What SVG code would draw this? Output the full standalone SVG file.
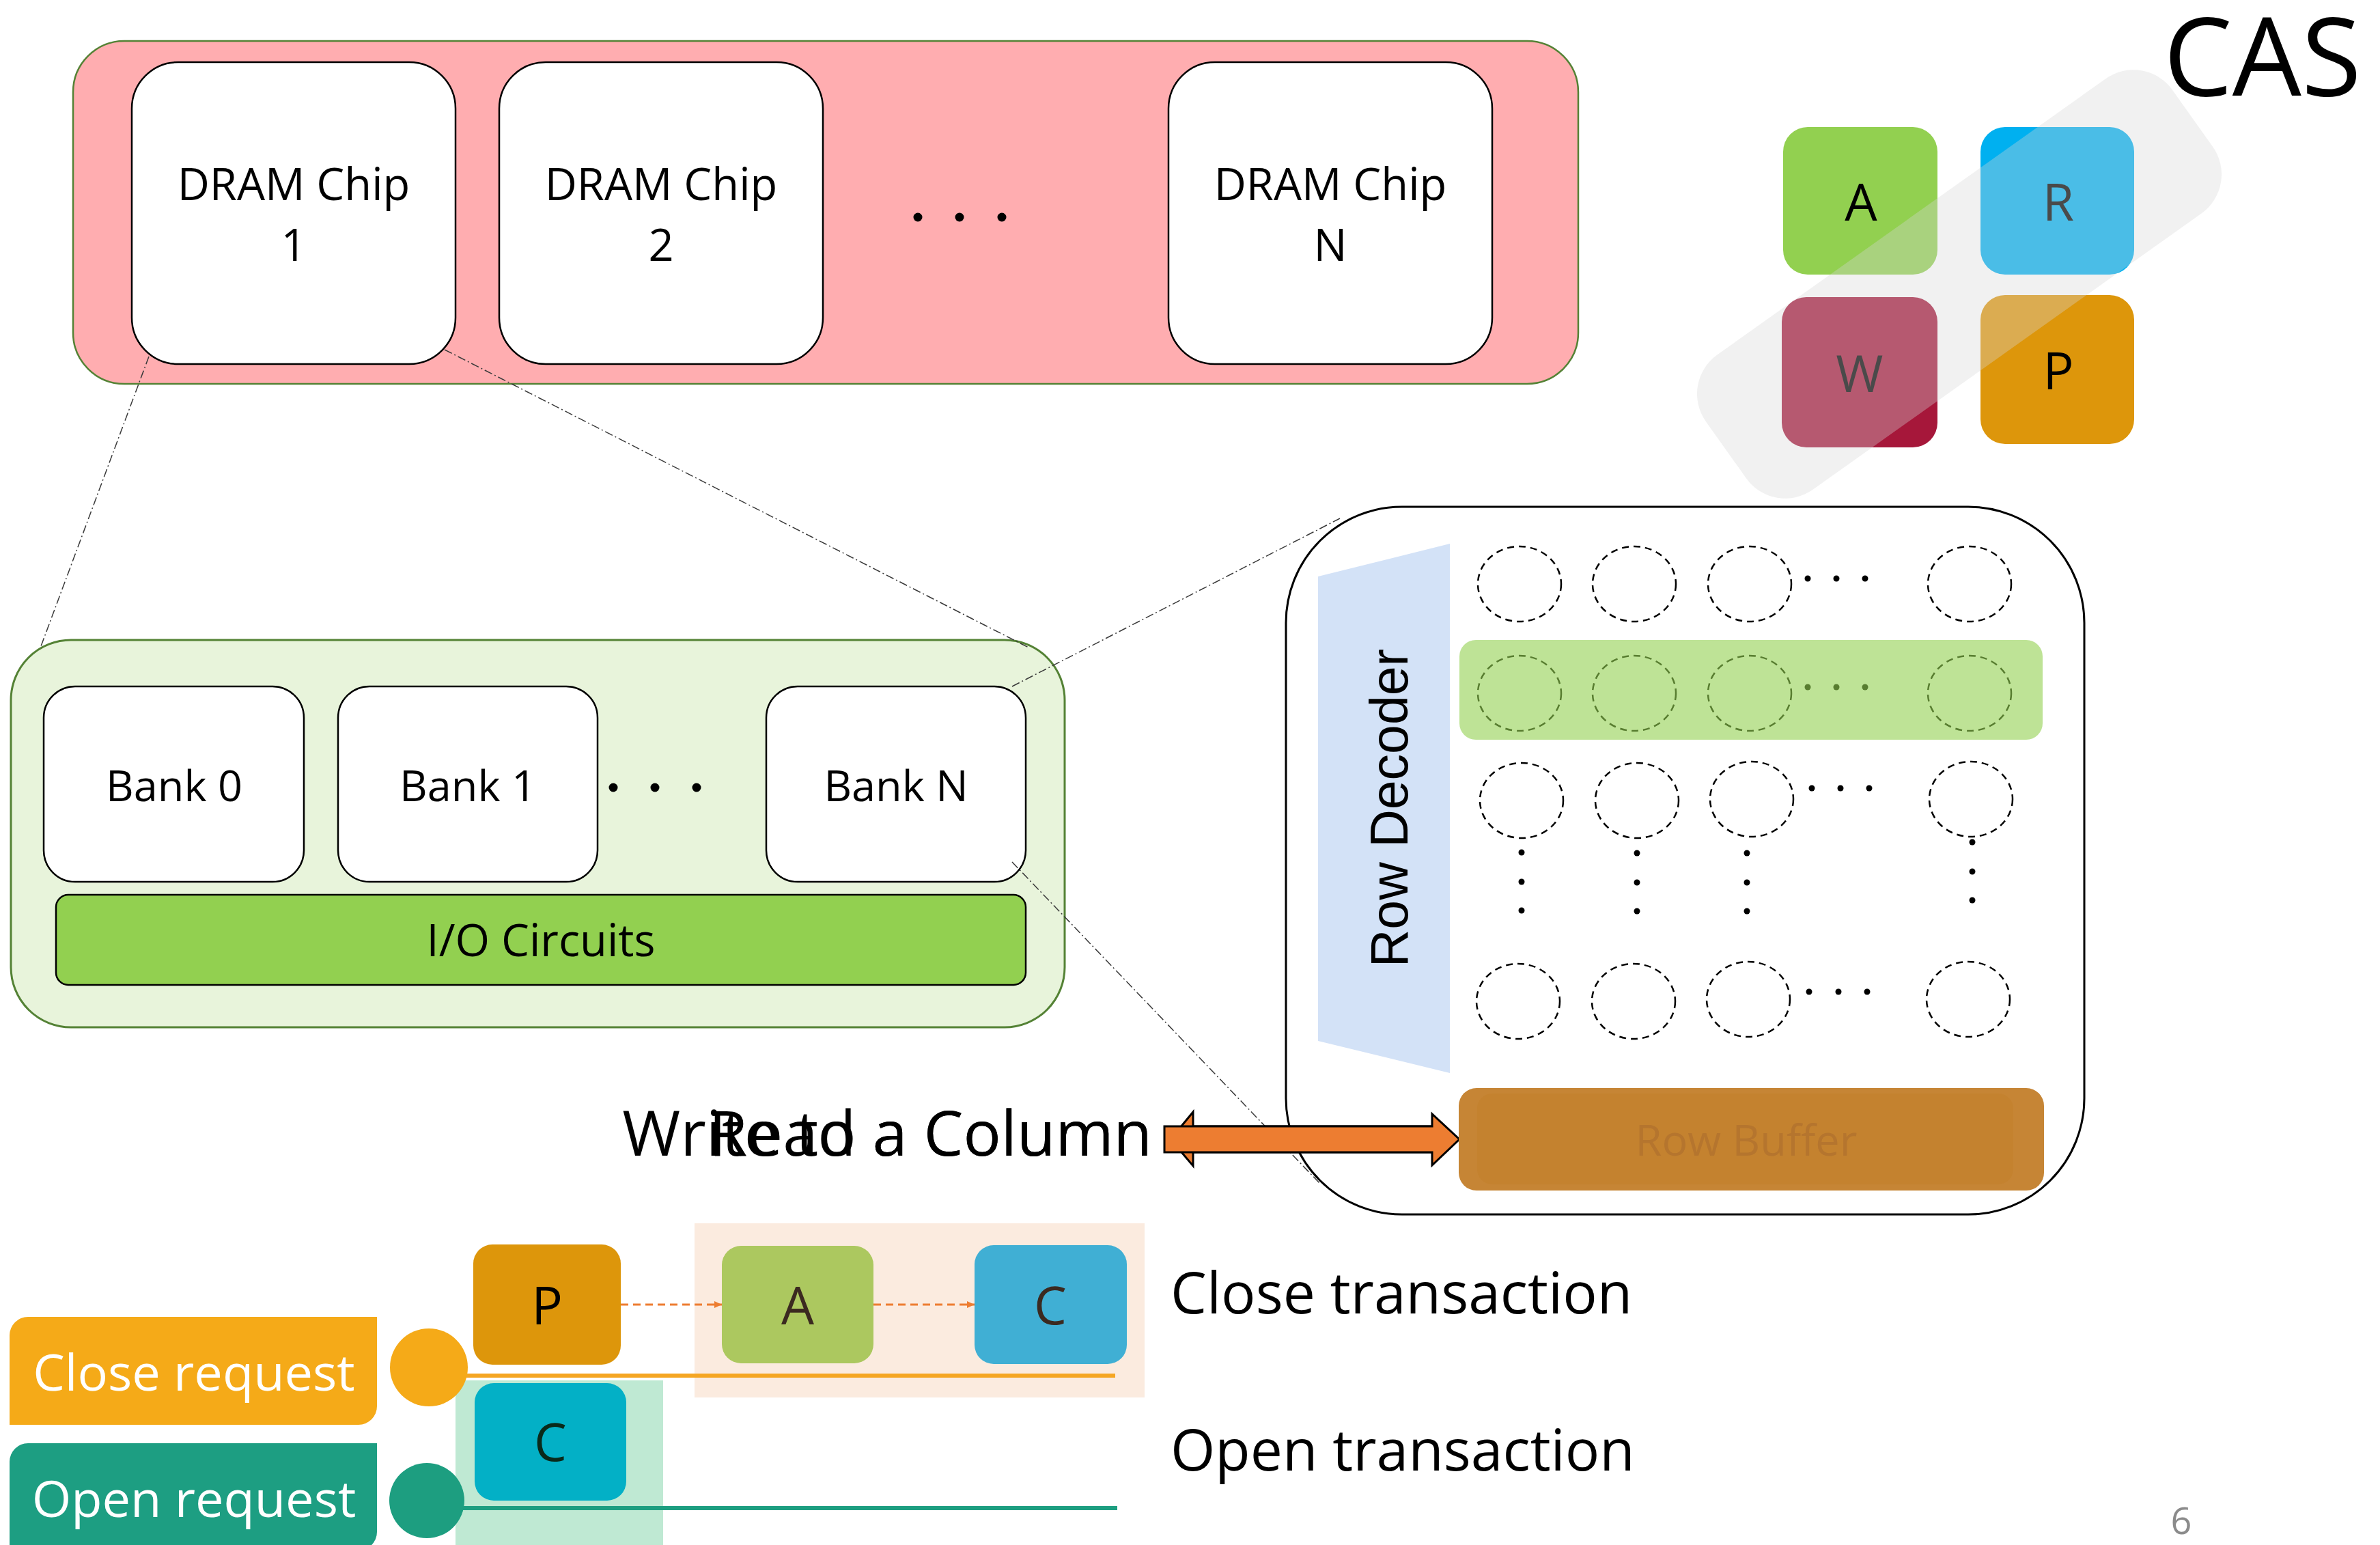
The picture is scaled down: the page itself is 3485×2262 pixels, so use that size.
<svg xmlns="http://www.w3.org/2000/svg" width="3485" height="2262" viewBox="0 0 3485 2262">
<defs>
<style>
text{font-family:"Open Sans","Noto Sans","Liberation Sans",sans-serif;}
.chip{fill:#FFFFFF;stroke:#000;stroke-width:2.5;}
.t65{font-size:65px;fill:#000;text-anchor:middle;}
.t63{font-size:63px;fill:#000;text-anchor:middle;}
.cell{fill:none;stroke:#000;stroke-width:2.5;stroke-dasharray:10 7;}
.zoomline{fill:none;stroke:#3a3a3a;stroke-width:1.5;stroke-dasharray:12 4 2 4;}
.leg{font-size:75px;text-anchor:middle;}
.tb{font-size:76px;text-anchor:middle;}
.req{font-size:74px;fill:#FFFFFF;text-anchor:middle;}
.big{font-size:84px;fill:#000;}
.flow{fill:none;stroke:#ED7D31;stroke-width:3;stroke-dasharray:11 7;}
</style>
<marker id="ah" markerWidth="12" markerHeight="10" refX="11" refY="5" orient="auto" markerUnits="userSpaceOnUse">
<path d="M0,0 L11,5 L0,10 Z" fill="#ED7D31"/>
</marker>
</defs>
<rect x="0" y="0" width="3485" height="2262" fill="#FFFFFF"/>

<!-- Channel with DRAM chips -->
<g id="channel">
<rect x="107" y="60" width="2204" height="502" rx="75" ry="75" fill="#FFADB0" stroke="#548235" stroke-width="2.5"/>
</g>
<g id="chip1">
<rect class="chip" x="193" y="91" width="474" height="442" rx="68" ry="68"/>
<text class="t65" x="430" y="293">DRAM Chip</text>
<text class="t65" x="430" y="382">1</text>
</g>
<g id="chip2">
<rect class="chip" x="731" y="91" width="474" height="442" rx="68" ry="68"/>
<text class="t65" x="968" y="293">DRAM Chip</text>
<text class="t65" x="968" y="382">2</text>
</g>
<g id="chipDots">
<circle cx="1344" cy="318" r="6.5" fill="#000"/>
<circle cx="1405" cy="318" r="6.5" fill="#000"/>
<circle cx="1467" cy="318" r="6.5" fill="#000"/>
</g>
<g id="chipN">
<rect class="chip" x="1711" y="91" width="474" height="442" rx="68" ry="68"/>
<text class="t65" x="1948" y="293">DRAM Chip</text>
<text class="t65" x="1948" y="382">N</text>
</g>

<!-- CAS legend -->
<g id="casTitle">
<text x="3168" y="140" font-size="160" fill="#000">CAS</text>
</g>
<g id="legA">
<rect x="2611" y="186" width="226" height="216" rx="36" ry="36" fill="#92D050"/>
<text class="leg" x="2725" y="323" fill="#000">A</text>
</g>
<g id="legR">
<rect x="2900" y="186" width="225" height="216" rx="36" ry="36" fill="#00B0F0"/>
<text class="leg" x="3014" y="323" fill="#000">R</text>
</g>
<g id="legW">
<rect x="2609" y="435" width="228" height="220" rx="36" ry="36" fill="#A6173A"/>
<text class="leg" x="2723" y="574" fill="#000">W</text>
</g>
<g id="legP">
<rect x="2900" y="432" width="225" height="218" rx="36" ry="36" fill="#DD960B"/>
<text class="leg" x="3014" y="570" fill="#000">P</text>
</g>
<g id="legOverlay">
<rect x="-419" y="-121" width="838" height="242" rx="70" ry="70" fill="#D6D6D6" opacity="0.345" transform="translate(2869,416) rotate(-35.4)"/>
</g>

<!-- Bank view -->
<g id="bankContainer">
<rect x="16" y="937" width="1543" height="567" rx="88" ry="88" fill="#E8F4DB" stroke="#548235" stroke-width="3"/>
</g>
<g id="bank0">
<rect class="chip" x="64" y="1005" width="381" height="286" rx="46" ry="46"/>
<text class="t63" x="255" y="1173">Bank 0</text>
</g>
<g id="bank1">
<rect class="chip" x="495" y="1005" width="380" height="286" rx="46" ry="46"/>
<text class="t63" x="685" y="1173">Bank 1</text>
</g>
<g id="bankDots">
<circle cx="898" cy="1153" r="6.5" fill="#000"/>
<circle cx="959" cy="1153" r="6.5" fill="#000"/>
<circle cx="1020" cy="1153" r="6.5" fill="#000"/>
</g>
<g id="bankN">
<rect class="chip" x="1122" y="1005" width="380" height="286" rx="46" ry="46"/>
<text class="t63" x="1312" y="1173">Bank N</text>
</g>
<g id="io">
<rect x="82" y="1310" width="1420" height="132" rx="18" ry="18" fill="#92D050" stroke="#000" stroke-width="2.5"/>
<text class="t65" x="792" y="1400">I/O Circuits</text>
</g>

<!-- Subarray view -->
<g id="subarray">
<rect x="1883" y="742" width="1169" height="1036" rx="170" ry="170" fill="#FFFFFF" stroke="#000" stroke-width="3"/>
</g>
<g id="rowDecoder">
<polygon points="1930,844 2123,796 2123,1571 1930,1524" fill="#D3E2F7"/>
<text x="2061" y="1183" font-size="77" fill="#000" text-anchor="middle" transform="rotate(-90 2061 1183)" style="font-family:'Liberation Sans','DejaVu Sans',sans-serif">Row Decoder</text>
</g>
<g id="cells">
<ellipse class="cell" cx="2225" cy="855" rx="61" ry="55"/>
<ellipse class="cell" cx="2393" cy="855" rx="61" ry="55"/>
<ellipse class="cell" cx="2562" cy="855" rx="61" ry="55"/>
<ellipse class="cell" cx="2884" cy="855" rx="61" ry="55"/>
<ellipse class="cell" cx="2225" cy="1015" rx="61" ry="55"/>
<ellipse class="cell" cx="2393" cy="1015" rx="61" ry="55"/>
<ellipse class="cell" cx="2562" cy="1015" rx="61" ry="55"/>
<ellipse class="cell" cx="2884" cy="1015" rx="61" ry="55"/>
<ellipse class="cell" cx="2228" cy="1172" rx="61" ry="55"/>
<ellipse class="cell" cx="2397" cy="1172" rx="61" ry="55"/>
<ellipse class="cell" cx="2565" cy="1170" rx="61" ry="55"/>
<ellipse class="cell" cx="2886" cy="1170" rx="61" ry="55"/>
<ellipse class="cell" cx="2223" cy="1466" rx="61" ry="55"/>
<ellipse class="cell" cx="2392" cy="1466" rx="61" ry="55"/>
<ellipse class="cell" cx="2560" cy="1463" rx="61" ry="55"/>
<ellipse class="cell" cx="2882" cy="1463" rx="61" ry="55"/>
</g>
<g id="cellDots" fill="#000">
<circle cx="2647" cy="847" r="4.5"/><circle cx="2689" cy="847" r="4.5"/><circle cx="2731" cy="847" r="4.5"/>
<circle cx="2647" cy="1006" r="4.5"/><circle cx="2689" cy="1006" r="4.5"/><circle cx="2731" cy="1006" r="4.5"/>
<circle cx="2653" cy="1154" r="4.5"/><circle cx="2695" cy="1154" r="4.5"/><circle cx="2737" cy="1154" r="4.5"/>
<circle cx="2649" cy="1452" r="4.5"/><circle cx="2692" cy="1452" r="4.5"/><circle cx="2734" cy="1452" r="4.5"/>
<circle cx="2228" cy="1248" r="4.5"/><circle cx="2228" cy="1291" r="4.5"/><circle cx="2228" cy="1333" r="4.5"/>
<circle cx="2397" cy="1249" r="4.5"/><circle cx="2397" cy="1292" r="4.5"/><circle cx="2397" cy="1334" r="4.5"/>
<circle cx="2558" cy="1249" r="4.5"/><circle cx="2558" cy="1292" r="4.5"/><circle cx="2558" cy="1334" r="4.5"/>
<circle cx="2888" cy="1233" r="4.5"/><circle cx="2888" cy="1276" r="4.5"/><circle cx="2888" cy="1318" r="4.5"/>
</g>
<g id="activeRow">
<rect x="2137" y="937" width="854" height="146" rx="24" ry="24" fill="#92D050" opacity="0.6"/>
</g>

<!-- Connectors -->
<g id="connectors">
<line class="zoomline" x1="218" y1="522" x2="60" y2="946"/>
<line class="zoomline" x1="651" y1="512" x2="1508" y2="949"/>
<line class="zoomline" x1="1482" y1="1005" x2="1962" y2="759"/>
<line class="zoomline" x1="1482" y1="1262" x2="1932" y2="1732"/>
<polygon points="1714,1668 1747,1628 1747,1649 2097,1649 2097,1687 1747,1687 1747,1707" fill="#ED7D31" stroke="#000" stroke-width="3" stroke-linejoin="miter"/>
<polygon points="1705,1649 2097,1649 2097,1631 2137,1668 2097,1706 2097,1687 1705,1687" fill="#ED7D31" stroke="#000" stroke-width="3" stroke-linejoin="miter"/>
</g>

<g id="rowBuffer">
<rect x="2136" y="1593" width="857" height="150" rx="26" ry="26" fill="#C68535"/>
<rect x="2163" y="1601" width="785" height="133" rx="22" ry="22" fill="#C4822F"/>
<text x="2557" y="1692" font-size="63" fill="#B5752E" text-anchor="middle">Row Buffer</text>
</g>

<g id="columnOps">
<text x="1687" y="1692" font-size="92" fill="#000" text-anchor="end">Write to a Column</text>
<text x="1687" y="1692" font-size="92" fill="#000" text-anchor="end">Read a Column</text>
</g>

<!-- Transactions -->
<g id="closeGroupBg">
<rect x="1017" y="1791" width="659" height="255" fill="#FBEBDF"/>
</g>
<g id="openGroupBg">
<rect x="667" y="2021" width="304" height="241" fill="#BFE9D3"/>
</g>
<g id="timelines">
<line x1="680" y1="2014" x2="1633" y2="2014" stroke="#F5A623" stroke-width="6"/>
<line x1="675" y1="2208" x2="1636" y2="2208" stroke="#1D9E80" stroke-width="6"/>
</g>
<g id="closeRequest">
<path d="M41 1928 H552 V2059 A27 27 0 0 1 525 2086 H14 V1955 A27 27 0 0 1 41 1928 Z" fill="#F5AA18"/>
<text class="req" x="284" y="2036">Close request</text>
</g>
<g id="closeDot">
<circle cx="628" cy="2002" r="57" fill="#F5AA18"/>
</g>
<g id="openRequest">
<path d="M41 2113 H552 V2243 A27 27 0 0 1 525 2270 H14 V2140 A27 27 0 0 1 41 2113 Z" fill="#1D9E82"/>
<text class="req" x="284" y="2221">Open request</text>
</g>
<g id="openDot">
<circle cx="625" cy="2197" r="55" fill="#1D9E80"/>
</g>
<g id="txP">
<rect x="693" y="1822" width="216" height="176" rx="28" ry="28" fill="#DD960B"/>
<text class="tb" x="801" y="1939" fill="#000">P</text>
</g>
<g id="txA">
<rect x="1057" y="1824" width="222" height="172" rx="28" ry="28" fill="#ACC85F"/>
<text class="tb" x="1168" y="1939" fill="#3B2A20">A</text>
</g>
<g id="txC">
<rect x="1427" y="1823" width="223" height="174" rx="28" ry="28" fill="#40AFD4"/>
<text class="tb" x="1538" y="1939" fill="#3B2A20">C</text>
</g>
<g id="txC2">
<rect x="695" y="2025" width="222" height="172" rx="28" ry="28" fill="#03B0C6"/>
<text class="tb" x="806" y="2139" fill="#0A2A1A">C</text>
</g>
<g id="flowArrows">
<line class="flow" x1="909" y1="1910" x2="1057" y2="1910" marker-end="url(#ah)"/>
<line class="flow" x1="1279" y1="1910" x2="1427" y2="1910" marker-end="url(#ah)"/>
</g>
<g id="labels">
<text class="big" x="1714" y="1923">Close transaction</text>
<text class="big" x="1714" y="2153">Open transaction</text>
<text x="3194" y="2246" font-size="54" fill="#8B8B8B" text-anchor="middle">6</text>
</g>
</svg>
